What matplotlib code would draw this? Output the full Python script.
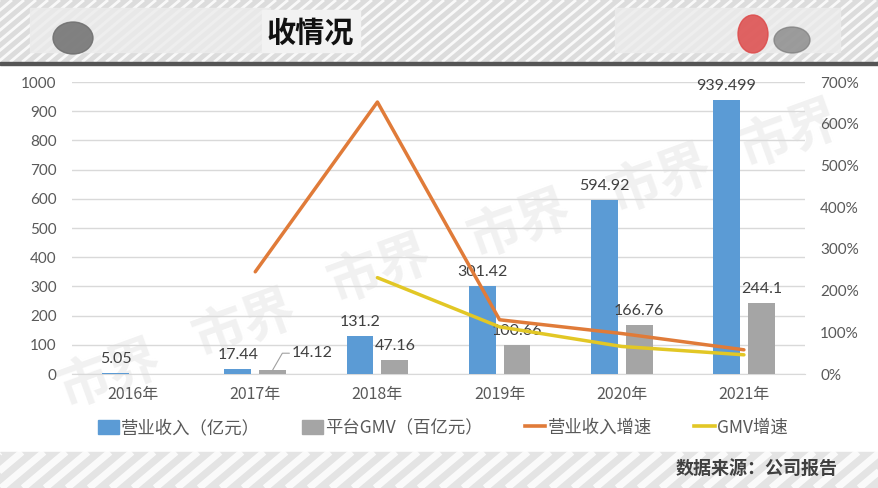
import numpy as np
import matplotlib.pyplot as plt
from matplotlib.patches import Rectangle, Ellipse, Patch
from matplotlib.lines import Line2D

# chart values
years = ["2016年", "2017年", "2018年", "2019年", "2020年", "2021年"]
revenue = [5.05, 17.44, 131.2, 301.42, 594.92, 939.499]        # 营业收入（亿元）
gmv = [np.nan, 14.12, 47.16, 100.66, 166.76, 244.1]             # 平台GMV（百亿元）
revenue_growth = [np.nan, 2.45, 6.52, 1.30, 0.97, 0.58]         # 营业收入增速
gmv_growth = [np.nan, np.nan, 2.31, 1.13, 0.66, 0.46]           # GMV增速
left_ticks = [0, 100, 200, 300, 400, 500, 600, 700, 800, 900, 1000]
right_ticks = [0, 1, 2, 3, 4, 5, 6, 7]

cjk = ["Noto Sans CJK SC", "DejaVu Sans"]
num = ["Lato", "DejaVu Sans"]
plt.rcParams["font.family"] = cjk

blue = "#5B9BD5"
gray = "#A5A5A5"
orange = "#E07B39"
yellow = "#E2C725"
txt = "#595959"

W, H = 879, 488
fig = plt.figure(figsize=(W / 100, H / 100), dpi=100)

# background layer in pixel coordinates
bg = fig.add_axes([0, 0, 1, 1], zorder=0)
bg.set_xlim(0, W)
bg.set_ylim(H, 0)
bg.axis("off")

def stripes(y0, y1, step, lw, base):
    bg.add_patch(Rectangle((0, y0), W, y1 - y0, color=base, zorder=0))
    h = y1 - y0
    dx = h / np.tan(np.radians(40))
    for xs in np.arange(-dx, W + dx, step):
        bg.plot([xs, xs + dx], [y1, y0], color="white", lw=lw, zorder=1,
                solid_capstyle="butt", alpha=0.85)

stripes(0, 62, 12, 2.0, "#dcdcdc")
stripes(452, H, 22, 5.0, "#e4e4e4")
bg.add_patch(Rectangle((0, 62), W, 3, color="#555555", zorder=2))
# lighter panels in the header
bg.add_patch(Rectangle((30, 8), 240, 44, color="#ececec", alpha=0.8, zorder=2))
bg.add_patch(Rectangle((615, 8), 225, 44, color="#ececec", alpha=0.8, zorder=2))
bg.add_patch(Rectangle((262, 10), 98, 42, color="#f2f2f2", zorder=2))
bg.add_patch(Ellipse((73, 38), 40, 32, color="#6e6e6e", alpha=0.85, zorder=3))
bg.add_patch(Ellipse((792, 40), 36, 26, color="#7a7a7a", alpha=0.7, zorder=3))
bg.add_patch(Ellipse((753, 34), 30, 38, color="#dd4a4a", alpha=0.85, zorder=4))
bg.text(310, 33, "收情况", fontsize=21, fontweight="bold", color="#111111",
        ha="center", va="center", zorder=5)
bg.text(838, 468, "数据来源：公司报告", fontsize=13, fontweight="bold",
        color="#404040", ha="right", va="center", zorder=5)

# faint watermark
for (xw, yw) in [(110, 375), (245, 325), (380, 270), (520, 225), (660, 180), (790, 135)]:
    bg.text(xw, yw, "市界", fontsize=38, fontweight="bold", color="#f1f1f1",
            rotation=20, ha="center", va="center", zorder=1)

# main chart
ax = fig.add_axes([72 / W, (H - 374) / H, 733 / W, 292 / H], zorder=2)
ax.patch.set_alpha(0)
x = np.arange(len(years))
bw = 0.22
off = 0.143
ax.bar(x - off, revenue, bw, color=blue, zorder=3)
ax.bar(x + off, gmv, bw, color=gray, zorder=3)

ax.set_xlim(-0.5, len(years) - 0.5)
ax.set_ylim(0, 1000)
ax.set_yticks(left_ticks)
ax.grid(axis="y", color="#d9d9d9", lw=1, zorder=0)
ax.set_axisbelow(True)
for s in ["top", "right", "left"]:
    ax.spines[s].set_visible(False)
ax.spines["bottom"].set_color("#d9d9d9")
ax.tick_params(length=0, colors=txt)
ax.tick_params(axis="y", labelsize=11, pad=11)
for lab in ax.get_yticklabels():
    lab.set_family(num)
ax.set_xticks(x)
ax.set_xticklabels(years, fontsize=11.5, color=txt)
ax.tick_params(axis="x", pad=9)

for i, v in enumerate(revenue):
    ax.annotate(f"{v:g}", (x[i] - off, v), xytext=(0, 5), textcoords="offset points",
                ha="center", va="bottom", fontsize=11.5, color="#404040", family=num)
for i, v in enumerate(gmv):
    if np.isnan(v):
        continue
    if i == 1:
        ax.annotate(f"{v:g}", (x[i] + off, v), xytext=(14, 12), textcoords="offset points",
                    ha="left", va="center", fontsize=11.5, color="#404040", family=num,
                    arrowprops=dict(arrowstyle="-", color="#a0a0a0", lw=0.8,
                                    connectionstyle="angle,angleA=0,angleB=60,rad=0",
                                    shrinkA=0, shrinkB=0))
    else:
        ax.annotate(f"{v:g}", (x[i] + off, v), xytext=(0, 5), textcoords="offset points",
                    ha="center", va="bottom", fontsize=11.5, color="#404040", family=num)

ax2 = ax.twinx()
ax2.set_ylim(0, 7)
ax2.set_yticks(right_ticks)
ax2.set_yticklabels([f"{int(t * 100)}%" for t in right_ticks], family=num)
for s in ax2.spines.values():
    s.set_visible(False)
ax2.tick_params(length=0, colors=txt, labelsize=11, pad=11)
ax2.plot(x, revenue_growth, color=orange, lw=2.5, zorder=4, solid_capstyle="round")
ax2.plot(x, gmv_growth, color=yellow, lw=2.5, zorder=4, solid_capstyle="round")

handles = [Patch(color=blue), Patch(color=gray),
           Line2D([], [], color=orange, lw=2.6), Line2D([], [], color=yellow, lw=2.6)]
labels = ["营业收入（亿元）", "平台GMV（百亿元）", "营业收入增速", "GMV增速"]
fig.legend(handles, labels, loc="center", bbox_to_anchor=(443 / W, (H - 428) / H),
           ncol=4, frameon=False, fontsize=12.5, handlelength=1.2, handleheight=0.9,
           handletextpad=0.15, columnspacing=2.4, labelcolor=txt)

fig.savefig("out.png", dpi=100)
